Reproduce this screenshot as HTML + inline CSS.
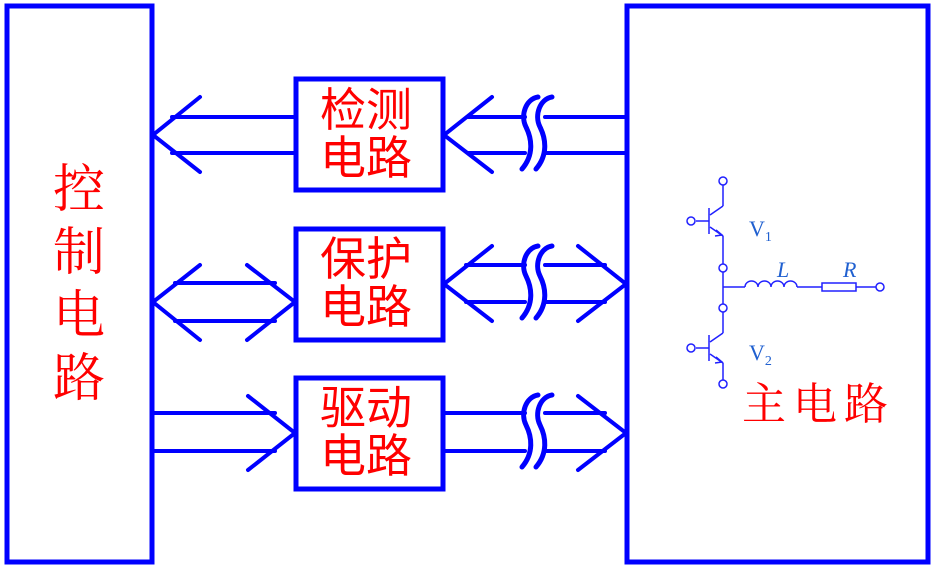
<!DOCTYPE html>
<html><head><meta charset="utf-8"><style>
html,body{margin:0;padding:0;background:#fff;width:934px;height:569px;overflow:hidden}
</style></head><body>
<svg width="934" height="569" viewBox="0 0 934 569" xmlns="http://www.w3.org/2000/svg">
<defs>
<g id="brk" fill="none" stroke="#0000ff" stroke-width="5" stroke-linecap="round">
<path d="M8,-38 C-4,-36 -10,-20 -4,-8 C2,4 4,20 -8,34"/>
<path d="M22,-38 C10,-36 4,-20 10,-8 C16,4 18,20 6,34"/>
</g>
</defs>
<g fill="none" stroke="#0000ff" stroke-width="5">
<rect x="7" y="6" width="145" height="556"/>
<rect x="627" y="6" width="301" height="556"/>
<rect x="296" y="79" width="147" height="111"/>
<rect x="296" y="229" width="147" height="111"/>
<rect x="296" y="378" width="147" height="111"/>
</g>
<g fill="none" stroke="#0000ff" stroke-width="4" stroke-linecap="round">
<line x1="172" y1="117" x2="296" y2="117"/><line x1="172" y1="153" x2="296" y2="153"/>
<polyline points="200,97 153,135 200,172"/>
<line x1="468" y1="117" x2="525" y2="117"/><line x1="468" y1="153" x2="525" y2="153"/>
<line x1="545" y1="117" x2="627" y2="117"/><line x1="545" y1="153" x2="627" y2="153"/>
<polyline points="492,97 444,135 492,172"/>
<line x1="175" y1="283" x2="275" y2="283"/><line x1="175" y1="321" x2="275" y2="321"/>
<polyline points="200,265 153,302 200,340"/>
<polyline points="247,265 295,302 247,340"/>
<line x1="466" y1="265" x2="525" y2="265"/><line x1="466" y1="302" x2="525" y2="302"/>
<line x1="545" y1="265" x2="605" y2="265"/><line x1="545" y1="302" x2="605" y2="302"/>
<polyline points="492,246 444,284 492,321"/>
<polyline points="578,246 626,284 578,321"/>
<line x1="153" y1="413" x2="275" y2="413"/><line x1="153" y1="451" x2="275" y2="451"/>
<polyline points="248,396 295,433 248,470"/>
<line x1="443" y1="413" x2="525" y2="413"/><line x1="443" y1="451" x2="525" y2="451"/>
<line x1="545" y1="413" x2="605" y2="413"/><line x1="545" y1="451" x2="605" y2="451"/>
<polyline points="578,396 626,433 578,470"/>
</g>
<use href="#brk" x="530" y="135"/>
<use href="#brk" x="530" y="284"/>
<use href="#brk" x="530" y="433"/>
<g fill="none" stroke="#2020ff" stroke-width="1.5">
<circle cx="723" cy="181" r="4"/>
<line x1="723" y1="185" x2="723" y2="206"/>
<line x1="723" y1="206" x2="710" y2="215"/>
<line x1="709" y1="208" x2="709" y2="234"/>
<line x1="696" y1="221" x2="709" y2="221"/>
<circle cx="691" cy="221" r="4"/>
<line x1="710" y1="227" x2="723" y2="236"/>
<path d="M716,230 L722,235 L715,236"/>
<line x1="723" y1="236" x2="723" y2="264"/>
<circle cx="723" cy="268" r="4"/>
<line x1="723" y1="272" x2="723" y2="304"/>
<circle cx="723" cy="308" r="4"/>
<line x1="723" y1="287" x2="745" y2="287"/>
<path d="M745,287 a6.5,6 0 0 1 13,0 a6.5,6 0 0 1 13,0 a6.5,6 0 0 1 13,0 a6.5,6 0 0 1 13,0"/>
<line x1="797" y1="287" x2="822" y2="287"/>
<rect x="822" y="283" width="34" height="8"/>
<line x1="856" y1="287" x2="876" y2="287"/>
<circle cx="880" cy="287" r="4"/>
<line x1="723" y1="312" x2="723" y2="333"/>
<line x1="723" y1="333" x2="710" y2="342"/>
<line x1="709" y1="335" x2="709" y2="361"/>
<line x1="696" y1="348" x2="709" y2="348"/>
<circle cx="691" cy="348" r="4"/>
<line x1="710" y1="354" x2="723" y2="363"/>
<path d="M716,357 L722,362 L715,363"/>
<line x1="723" y1="363" x2="723" y2="380"/>
<circle cx="723" cy="384" r="4"/>
</g>
<g fill="#2060d0" font-family="Liberation Serif, serif">
<text x="749" y="236" font-size="22">V<tspan font-size="14" dy="5">1</tspan></text>
<text x="749" y="360" font-size="22">V<tspan font-size="14" dy="5">2</tspan></text>
<text x="777" y="277" font-size="22" font-style="italic">L</text>
<text x="843" y="277" font-size="22" font-style="italic">R</text>
</g>
<g fill="#ff0000" font-family="Liberation Sans, Noto Sans CJK SC, sans-serif" font-size="46">
<text x="320" y="126">检测</text>
<text x="320" y="174">电路</text>
<text x="320" y="275">保护</text>
<text x="320" y="323">电路</text>
<text x="320" y="424">驱动</text>
<text x="320" y="472">电路</text>
</g>
<g fill="#ff0000" font-family="Liberation Serif, Noto Serif CJK SC, serif" font-size="52" text-anchor="middle">
<text x="79" y="207">控</text>
<text x="79" y="270">制</text>
<text x="79" y="333">电</text>
<text x="79" y="396">路</text>
</g>
<text x="742" y="419" fill="#ff0000" font-family="Liberation Serif, Noto Serif CJK SC, serif" font-size="44" letter-spacing="7">主电路</text>
</svg>
</body></html>
